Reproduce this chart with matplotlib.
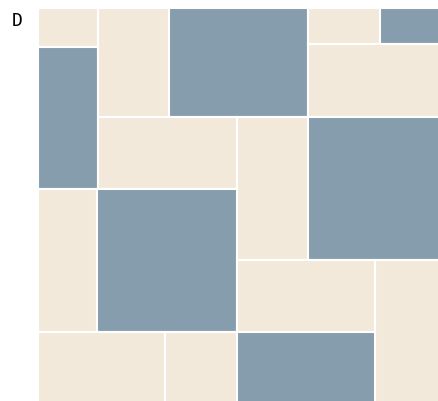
"""
Mosaic panel D: tiled rectangles in two tones (beige / slate blue).
Output: out.png
"""

import matplotlib.pyplot as plt
from matplotlib.patches import Rectangle

# tile layout in panel fractions (y measured from the top)
TILE_X0 = [0.000, 0.000, 0.149, 0.325, 0.670, 0.849, 0.670, 0.149, 0.493,
           0.670, 0.000, 0.147, 0.493, 0.836, 0.000, 0.316, 0.493]
TILE_X1 = [0.149, 0.149, 0.325, 0.670, 0.849, 1.000, 1.000, 0.493, 0.670,
           1.000, 0.147, 0.493, 0.836, 1.000, 0.316, 0.493, 0.836]
TILE_Y0 = [0.000, 0.098, 0.000, 0.000, 0.000, 0.000, 0.091, 0.276, 0.276,
           0.276, 0.459, 0.459, 0.638, 0.638, 0.820, 0.820, 0.820]
TILE_Y1 = [0.098, 0.459, 0.276, 0.276, 0.091, 0.091, 0.276, 0.459, 0.638,
           0.638, 0.820, 0.820, 0.820, 1.000, 1.000, 1.000, 1.000]
TILE_KIND = ["a", "b", "a", "b", "a", "b", "a", "a", "a",
             "b", "a", "b", "a", "a", "a", "a", "b"]

COLORS = {"a": "#F3E9DB", "b": "#869DAD"}
PANEL_LABEL = "D"

W, H = 439, 401
fig = plt.figure(figsize=(W / 100, H / 100), dpi=100)
# panel runs past the right/bottom edge of the figure, as in the cropped original
ax = fig.add_axes([38 / W, 1 - (8 + 395) / H, 403 / W, 395 / H])
ax.set_xlim(0, 1)
ax.set_ylim(1, 0)
ax.axis("off")

for x0, x1, y0, y1, k in zip(TILE_X0, TILE_X1, TILE_Y0, TILE_Y1, TILE_KIND):
    ax.add_patch(Rectangle((x0, y0), x1 - x0, y1 - y0,
                           facecolor=COLORS[k], edgecolor="white",
                           linewidth=1.5, clip_on=False))

fig.text(17.6 / W, 1 - 20.5 / H, PANEL_LABEL, fontsize=13,
         family="DejaVu Sans Mono", ha="center", va="center", color="black")

fig.savefig("out.png", dpi=100)
